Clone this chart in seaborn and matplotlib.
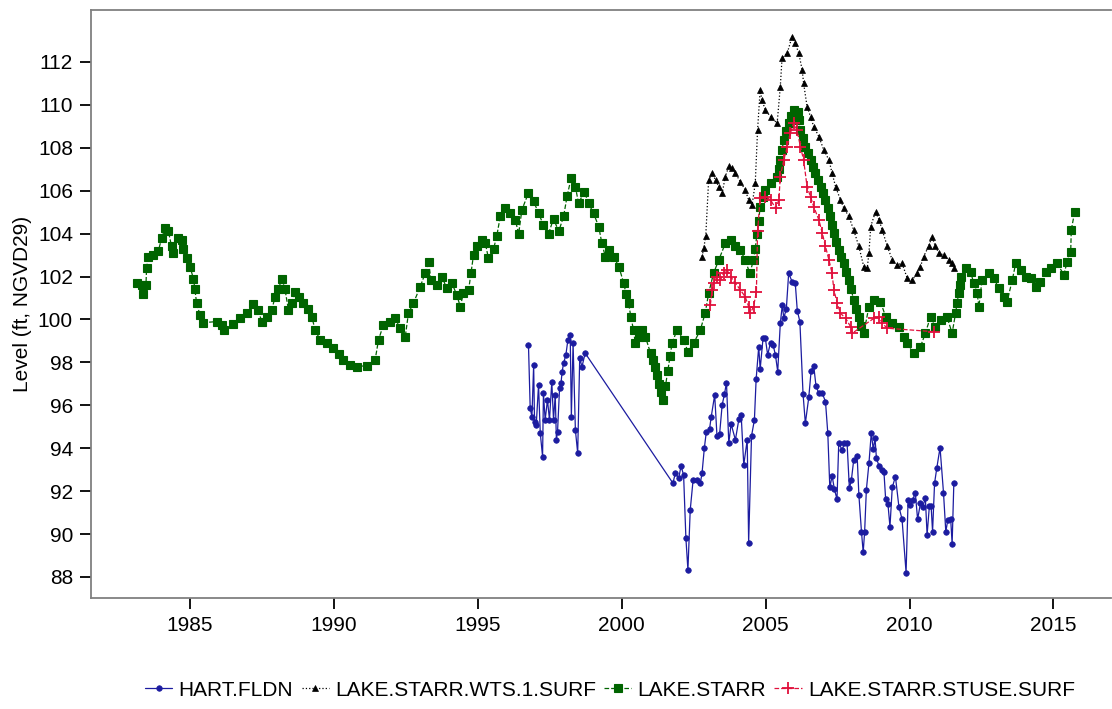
import matplotlib
matplotlib.use('Agg')

import matplotlib.pyplot as plt
import seaborn as sns

# ----------------------------------------------------
# Data (decimal year, level in ft NGVD29)
# ----------------------------------------------------
hart_years = [
    1996.76, 1996.82, 1996.88, 1996.94, 1996.97, 1997.03, 1997.11, 1997.17, 1997.25, 1997.28,
    1997.34, 1997.42, 1997.49, 1997.57, 1997.63, 1997.69, 1997.73, 1997.77, 1997.84, 1997.89,
    1997.93, 1997.98, 1998.06, 1998.13, 1998.21, 1998.25, 1998.31, 1998.39, 1998.47, 1998.54,
    1998.62, 1998.73, 2001.78, 2001.86, 2001.98, 2002.06, 2002.15, 2002.23, 2002.30, 2002.38,
    2002.48, 2002.61, 2002.73, 2002.79, 2002.87, 2002.94, 2003.05, 2003.11, 2003.23, 2003.31,
    2003.40, 2003.49, 2003.57, 2003.64, 2003.72, 2003.80, 2003.95, 2004.07, 2004.15, 2004.24,
    2004.36, 2004.41, 2004.51, 2004.61, 2004.67, 2004.76, 2004.81, 2004.91, 2004.99, 2005.07,
    2005.17, 2005.26, 2005.34, 2005.42, 2005.51, 2005.58, 2005.63, 2005.72, 2005.80, 2005.92,
    2006.03, 2006.10, 2006.19, 2006.30, 2006.38, 2006.50, 2006.58, 2006.67, 2006.75, 2006.84,
    2006.96, 2007.08, 2007.16, 2007.23, 2007.31, 2007.39, 2007.48, 2007.54, 2007.66, 2007.74,
    2007.83, 2007.91, 2007.98, 2008.06, 2008.18, 2008.24, 2008.33, 2008.39, 2008.44, 2008.50,
    2008.59, 2008.67, 2008.74, 2008.80, 2008.85, 2008.94, 2009.03, 2009.11, 2009.17, 2009.25,
    2009.32, 2009.40, 2009.51, 2009.63, 2009.74, 2009.88, 2009.95, 2010.03, 2010.11, 2010.20,
    2010.28, 2010.38, 2010.46, 2010.55, 2010.61, 2010.69, 2010.75, 2010.80, 2010.87, 2010.95,
    2011.06, 2011.18, 2011.26, 2011.33, 2011.43, 2011.48, 2011.54,
]
hart_level = [
    98.81, 95.86, 95.47, 97.88, 95.24, 95.09, 96.95, 94.70, 93.61, 96.56,
    95.32, 96.25, 95.32, 97.10, 95.32, 96.48, 94.39, 94.77, 96.79, 97.03,
    97.57, 97.96, 98.35, 99.05, 99.28, 95.47, 98.89, 94.85, 93.77, 98.19,
    97.80, 98.43, 92.37, 92.83, 92.60, 93.17, 92.75, 89.80, 88.33, 91.12,
    92.52, 92.52, 92.37, 92.83, 94.00, 94.77, 94.88, 95.47, 96.48, 94.57,
    94.65, 96.02, 96.52, 97.06, 94.23, 95.13, 94.39, 95.35, 95.55, 93.22,
    94.39, 89.60, 94.57, 95.32, 97.21, 98.73, 97.68, 99.13, 99.13, 98.35,
    98.92, 98.81, 98.35, 97.57, 99.82, 100.68, 100.06, 100.50, 102.15, 101.76,
    101.69, 100.41, 99.90, 96.53, 95.16, 96.38, 97.60, 97.85, 96.90, 96.59,
    96.59, 96.17, 94.70, 92.17, 92.71, 92.09, 91.62, 94.23, 93.92, 94.26,
    94.23, 92.13, 92.52, 93.45, 93.64, 91.82, 90.11, 89.15, 90.11, 92.06,
    93.30, 94.70, 93.95, 94.47, 93.53, 93.17, 92.99, 92.91, 91.62, 91.40,
    90.34, 92.17, 92.68, 91.28, 90.69, 88.20, 91.59, 91.36, 91.59, 91.93,
    90.69, 91.43, 91.28, 91.67, 89.96, 91.31, 91.31, 90.11, 92.37, 93.10,
    94.03, 91.93, 90.11, 90.66, 90.69, 89.54, 92.40,
]

wts_years = [
    2002.79, 2002.85, 2002.92, 2003.02, 2003.14, 2003.26, 2003.37, 2003.49, 2003.60, 2003.72,
    2003.84, 2003.95, 2004.12, 2004.29, 2004.41, 2004.53, 2004.64, 2004.72, 2004.81, 2004.87,
    2004.99, 2005.17, 2005.40, 2005.51, 2005.57, 2005.75, 2005.92, 2006.03, 2006.15, 2006.27,
    2006.32, 2006.44, 2006.56, 2006.67, 2006.85, 2007.02, 2007.20, 2007.31, 2007.43, 2007.60,
    2007.72, 2007.89, 2008.06, 2008.24, 2008.41, 2008.53, 2008.59, 2008.65, 2008.82, 2008.94,
    2009.05, 2009.23, 2009.40, 2009.57, 2009.74, 2009.92, 2010.09, 2010.27, 2010.38, 2010.49,
    2010.66, 2010.78, 2010.90, 2011.02, 2011.19, 2011.36, 2011.48, 2011.54,
]
wts_level = [
    102.93, 103.32, 103.90, 106.50, 106.81, 106.50, 106.19, 105.88, 106.66, 107.13,
    107.05, 106.81, 106.42, 106.04, 105.57, 105.34, 106.35, 108.83, 110.70, 110.23,
    109.76, 109.45, 109.14, 110.85, 112.17, 112.41, 113.18, 112.87, 112.41, 111.63,
    111.00, 109.92, 109.45, 108.99, 108.52, 107.90, 107.43, 106.81, 106.19, 105.57,
    105.18, 104.80, 104.17, 103.40, 102.46, 102.39, 103.09, 104.33, 105.03, 104.64,
    104.17, 103.40, 102.77, 102.54, 102.62, 101.92, 101.84, 102.15, 102.46, 102.93,
    103.40, 103.86, 103.40, 103.09, 103.00, 102.77, 102.62, 102.39,
]

starr_years = [
    1983.15, 1983.32, 1983.38, 1983.47, 1983.49, 1983.55, 1983.72, 1983.90, 1984.02, 1984.13,
    1984.25, 1984.36, 1984.42, 1984.59, 1984.71, 1984.77, 1984.88, 1985.00, 1985.12, 1985.17,
    1985.23, 1985.35, 1985.44, 1985.93, 1986.10, 1986.18, 1986.50, 1986.74, 1986.97, 1987.20,
    1987.37, 1987.49, 1987.67, 1987.84, 1987.96, 1988.07, 1988.19, 1988.30, 1988.42, 1988.54,
    1988.65, 1988.77, 1988.94, 1989.11, 1989.23, 1989.35, 1989.52, 1989.75, 1989.98, 1990.16,
    1990.33, 1990.56, 1990.80, 1991.14, 1991.43, 1991.55, 1991.72, 1991.95, 1992.13, 1992.30,
    1992.48, 1992.59, 1992.76, 1993.00, 1993.17, 1993.29, 1993.37, 1993.58, 1993.75, 1993.92,
    1994.10, 1994.27, 1994.39, 1994.50, 1994.68, 1994.76, 1994.85, 1994.97, 1995.14, 1995.26,
    1995.37, 1995.55, 1995.66, 1995.78, 1995.95, 1996.13, 1996.30, 1996.42, 1996.53, 1996.76,
    1996.94, 1997.11, 1997.28, 1997.46, 1997.63, 1997.81, 1997.98, 1998.10, 1998.24, 1998.39,
    1998.50, 1998.70, 1998.85, 1999.02, 1999.20, 1999.31, 1999.43, 1999.55, 1999.72, 1999.90,
    2000.07, 2000.15, 2000.24, 2000.32, 2000.41, 2000.47, 2000.59, 2000.71, 2000.82, 2001.00,
    2001.08, 2001.17, 2001.24, 2001.30, 2001.38, 2001.45, 2001.52, 2001.60, 2001.68, 2001.75,
    2001.92, 2002.15, 2002.30, 2002.50, 2002.73, 2002.90, 2003.02, 2003.19, 2003.37, 2003.60,
    2003.78, 2003.95, 2004.12, 2004.29, 2004.45, 2004.58, 2004.64, 2004.70, 2004.76, 2004.81,
    2004.90, 2004.99, 2005.17, 2005.40, 2005.46, 2005.51, 2005.57, 2005.63, 2005.72, 2005.80,
    2005.88, 2005.97, 2006.11, 2006.16, 2006.21, 2006.30, 2006.38, 2006.47, 2006.56, 2006.65,
    2006.73, 2006.82, 2006.91, 2007.00, 2007.08, 2007.17, 2007.25, 2007.31, 2007.37, 2007.46,
    2007.54, 2007.63, 2007.72, 2007.80, 2007.89, 2007.97, 2008.06, 2008.15, 2008.24, 2008.33,
    2008.41, 2008.59, 2008.76, 2008.99, 2009.17, 2009.40, 2009.63, 2009.80, 2009.92, 2010.15,
    2010.38, 2010.55, 2010.73, 2010.90, 2011.08, 2011.30, 2011.48, 2011.60, 2011.65, 2011.71,
    2011.75, 2011.79, 2011.95, 2012.12, 2012.23, 2012.35, 2012.41, 2012.52, 2012.75, 2012.93,
    2013.10, 2013.28, 2013.39, 2013.57, 2013.69, 2013.86, 2014.03, 2014.21, 2014.38, 2014.55,
    2014.73, 2014.90, 2015.13, 2015.36, 2015.48, 2015.60, 2015.62, 2015.74,
]
starr_level = [
    101.69, 101.60, 101.20, 101.60, 102.40, 102.90, 103.00, 103.20, 103.80, 104.25,
    104.10, 103.40, 103.10, 103.80, 103.70, 103.30, 102.85, 102.45, 101.90, 101.40,
    100.75, 100.20, 99.85, 99.90, 99.75, 99.50, 99.80, 100.05, 100.30, 100.70,
    100.45, 99.90, 100.13, 100.45, 101.06, 101.40, 101.90, 101.40, 100.45, 100.75,
    101.30, 101.06, 100.75, 100.50, 100.13, 99.50, 99.05, 98.90, 98.65, 98.40,
    98.10, 97.88, 97.80, 97.85, 98.10, 99.05, 99.75, 99.90, 100.05, 99.60,
    99.20, 100.30, 100.75, 101.53, 102.15, 102.70, 101.84, 101.60, 102.00, 101.45,
    101.69, 101.14, 100.60, 101.22, 101.37, 102.15, 103.00, 103.40, 103.70, 103.55,
    102.85, 103.30, 103.90, 104.80, 105.20, 104.95, 104.64, 104.00, 105.10, 105.90,
    105.50, 104.95, 104.40, 104.00, 104.70, 104.10, 104.80, 105.73, 106.58, 106.19,
    105.41, 105.96, 105.41, 104.95, 104.33, 103.55, 102.93, 103.24, 102.93, 102.46,
    101.69, 101.20, 100.75, 100.10, 99.51, 98.89, 99.20, 99.51, 99.20, 98.43,
    98.10, 97.80, 97.40, 97.00, 96.60, 96.25, 96.90, 97.60, 98.30, 98.90,
    99.50, 99.05, 98.50, 98.90, 99.50, 100.30, 101.22, 102.15, 102.77, 103.55,
    103.70, 103.40, 103.24, 102.77, 102.15, 102.77, 103.30, 104.00, 104.60, 105.26,
    105.70, 106.04, 106.35, 106.66, 107.00, 107.43, 107.90, 108.37, 108.80, 109.14,
    109.50, 109.76, 109.68, 109.30, 108.83, 108.45, 108.05, 107.75, 107.43, 107.10,
    106.81, 106.50, 106.19, 105.90, 105.57, 105.20, 104.80, 104.40, 104.02, 103.60,
    103.24, 102.90, 102.62, 102.20, 101.84, 101.40, 100.91, 100.50, 100.13, 99.70,
    99.36, 100.60, 100.91, 100.83, 100.13, 99.82, 99.67, 99.20, 98.89, 98.43,
    98.73, 99.36, 100.13, 99.67, 99.98, 100.13, 99.36, 100.29, 100.75, 101.22,
    101.60, 102.00, 102.39, 102.23, 101.69, 101.22, 100.60, 101.84, 102.15, 101.92,
    101.45, 101.06, 100.83, 101.84, 102.62, 102.31, 102.00, 101.92, 101.53, 101.76,
    102.23, 102.39, 102.62, 102.08, 102.70, 103.16, 104.17, 105.03,
]

stuse_years = [
    2003.08, 2003.14, 2003.19, 2003.31, 2003.43, 2003.54, 2003.66, 2003.78, 2003.95, 2004.12,
    2004.29, 2004.41, 2004.47, 2004.58, 2004.68, 2004.72, 2004.81, 2004.99, 2005.17, 2005.35,
    2005.46, 2005.51, 2005.63, 2005.75, 2005.86, 2005.97, 2006.09, 2006.21, 2006.32, 2006.44,
    2006.56, 2006.67, 2006.85, 2006.97, 2007.08, 2007.20, 2007.31, 2007.37, 2007.49, 2007.60,
    2007.78, 2007.95, 2008.01, 2008.76, 2008.94, 2009.05, 2009.23, 2010.84,
]
stuse_level = [
    100.68, 101.38, 101.69, 102.00, 101.84, 102.15, 102.31, 102.00, 101.69, 101.38,
    101.06, 100.60, 100.29, 100.60, 101.30, 104.10, 105.65, 105.72, 105.57, 105.18,
    105.57, 106.66, 107.43, 108.05, 108.68, 109.14, 108.83, 108.05, 107.43, 106.19,
    105.72, 105.26, 104.64, 104.02, 103.40, 102.77, 102.15, 101.38, 100.75, 100.29,
    100.05, 99.67, 99.36, 100.05, 100.13, 99.82, 99.59, 99.43,
]

x_ticks = [1985, 1990, 1995, 2000, 2005, 2010, 2015]
y_ticks = [88, 90, 92, 94, 96, 98, 100, 102, 104, 106, 108, 110, 112]

sns.set_theme(style="ticks")
plt.rcParams['font.family'] = ['Liberation Sans', 'DejaVu Sans']
plt.rcParams['text.color'] = 'black'
plt.rcParams['axes.labelcolor'] = 'black'


def plot_levels():
    fig = plt.figure(figsize=(11.12, 7.09), dpi=100)
    ax = fig.add_axes([91 / 1112, 1 - 598 / 709, 1020 / 1112, 588 / 709])

    sns.lineplot(x=hart_years, y=hart_level, ax=ax, sort=False, estimator=None,
                 color='#1c1ca0', linewidth=0.9, linestyle='-', marker='o',
                 markersize=4, markeredgecolor='#1c1ca0', markeredgewidth=0.5,
                 label='HART.FLDN', legend=False)
    sns.lineplot(x=wts_years, y=wts_level, ax=ax, sort=False, estimator=None,
                 color='black', linewidth=0.9, linestyle=':', marker='^',
                 markersize=5, markeredgecolor='black', markeredgewidth=0.5,
                 label='LAKE.STARR.WTS.1.SURF', legend=False)
    sns.lineplot(x=starr_years, y=starr_level, ax=ax, sort=False, estimator=None,
                 color='#006400', linewidth=0.9, linestyle='--', marker='s',
                 markersize=6, markeredgecolor='#006400', markeredgewidth=0.8,
                 label='LAKE.STARR', legend=False)
    sns.lineplot(x=stuse_years, y=stuse_level, ax=ax, sort=False, estimator=None,
                 color='#e0103c', linewidth=0.9, linestyle='--', marker='+',
                 markersize=8, markeredgecolor='#e0103c', markeredgewidth=1.3,
                 label='LAKE.STARR.STUSE.SURF', legend=False)

    ax.set_xlim(1981.56, 2017.0)
    ax.set_ylim(87.02, 114.42)
    ax.set_xticks(x_ticks)
    ax.set_yticks(y_ticks)
    ax.set_xlabel("")
    ax.set_ylabel("Level (ft, NGVD29)", fontsize=15, color='black')
    ax.tick_params(axis='both', labelsize=15, length=8, width=1.3,
                   color='black', labelcolor='black', pad=5)

    for side in ['top', 'left', 'bottom']:
        ax.spines[side].set_color('#808080')
        ax.spines[side].set_linewidth(1.3)
    ax.spines['right'].set_visible(False)

    handles, labels = ax.get_legend_handles_labels()
    fig.legend(handles, labels, loc='center', bbox_to_anchor=(610 / 1112, 1 - 690 / 709),
               ncol=4, frameon=False, fontsize=15, handlelength=1.3,
               handletextpad=0.3, columnspacing=0.4, borderpad=0.1)

    fig.savefig("out.png", dpi=100)


if __name__ == "__main__":
    plot_levels()
